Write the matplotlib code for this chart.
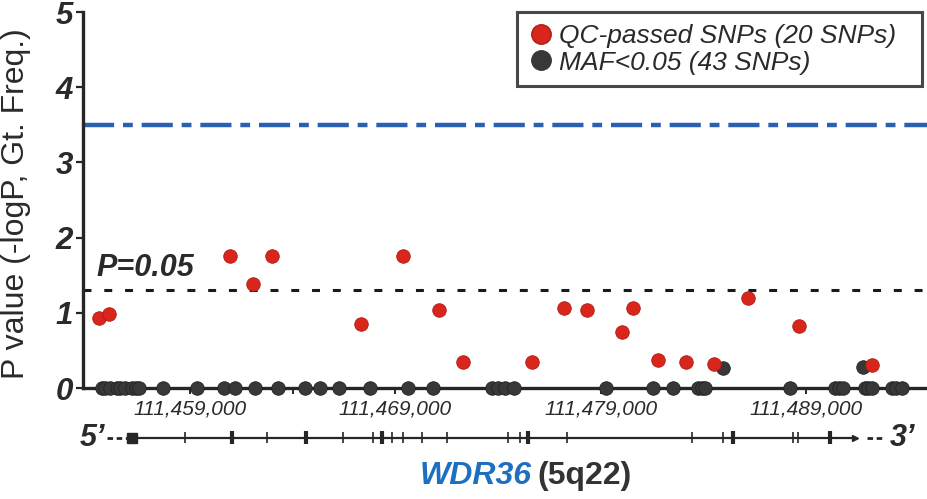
import matplotlib
matplotlib.use("Agg")
import matplotlib.pyplot as plt
from matplotlib.lines import Line2D
from matplotlib.ticker import FixedLocator, FuncFormatter

plt.rcParams['font.family'] = ['Liberation Sans', 'DejaVu Sans']

# QC-passed SNPs (position in bp, -logP)
qc_pos = [111454580, 111455070, 111460950, 111462080, 111462990, 111467310,
          111469390, 111471110, 111472310, 111475640, 111477220, 111478350,
          111480030, 111480590, 111481810, 111483160, 111484540, 111486200,
          111488660, 111492220]
qc_val = [0.93, 0.98, 1.76, 1.38, 1.76, 0.85, 1.76, 1.04, 0.35, 0.34,
          1.07, 1.04, 0.75, 1.07, 0.37, 0.35, 0.32, 1.20, 0.83, 0.30]

# MAF<0.05 SNPs
maf_pos = [111454700, 111454860, 111455100, 111455430, 111455590, 111455830,
           111456160, 111456370, 111456530, 111457670, 111459330, 111460660,
           111461190, 111462170, 111463300, 111464600, 111465330, 111466270,
           111467770, 111469630, 111470850, 111473700, 111474000, 111474340,
           111474780, 111479260, 111481540, 111482510, 111483760, 111483940,
           111484090, 111488230, 111490420, 111490610, 111490820, 111491880,
           111492030, 111492200, 111493180, 111493390, 111493670,
           111484950, 111491770]
maf_val = [0.0] * 41 + [0.27, 0.28]

sig_line = 1.30      # P = 0.05
bonf_line = 3.5

# gene structure of WDR36
gene_start = 111456160
gene_end = 111491390
exon_thick = [111461030, 111464650, 111468340, 111475480, 111485460, 111490170]
exon_thin = [111458760, 111462740, 111466450, 111467930, 111468830, 111469390,
             111470290, 111471500, 111474500, 111475070, 111477380, 111483440,
             111484950, 111488390, 111488630]

x_min, x_max = 111453790, 111494950
major_ticks = [111459000, 111469000, 111479000, 111489000]
minor_ticks = [111464000, 111474000, 111484000]

red = '#d9261c'
dark = '#383838'
axc = '#262626'

fig = plt.figure(figsize=(9.28, 4.99), dpi=100)
ax = fig.add_axes([83 / 928, 111 / 499, 845 / 928, 376 / 499])

ax.axhline(bonf_line, color='#2b5fb3', lw=3.2, dashes=(7, 2, 2.2, 2))
ax.axhline(sig_line, color='#1a1a1a', lw=2.2, dashes=(2.6, 4.2))

ax.scatter(maf_pos, maf_val, s=95, color=dark, edgecolor='#222222',
           linewidth=0.6, zorder=3, clip_on=False)
ax.scatter(qc_pos, qc_val, s=95, color=red, edgecolor='#b01a12',
           linewidth=0.6, zorder=4, clip_on=False)

ax.set_xlim(x_min, x_max)
ax.set_ylim(0, 5)
for s in ['top', 'right']:
    ax.spines[s].set_visible(False)
for s in ['left', 'bottom']:
    ax.spines[s].set_linewidth(2.4)
    ax.spines[s].set_color(axc)
ax.spines['bottom'].set_zorder(2)

ax.set_yticks([0, 1, 2, 3, 4, 5])
ax.set_yticklabels(['0', '1', '2', '3', '4', '5'], fontsize=22.5,
                   fontweight='bold', fontstyle='italic', color='#2a2a2a')
ax.tick_params(axis='y', length=5, width=1.6, pad=2, color=axc)

ax.xaxis.set_major_locator(FixedLocator(major_ticks))
ax.xaxis.set_minor_locator(FixedLocator(minor_ticks))
ax.xaxis.set_major_formatter(FuncFormatter(lambda v, p: f"{int(v):,}"))
ax.tick_params(axis='x', which='both', length=4, width=1.4, pad=4, color=axc)
for lab in ax.get_xticklabels():
    lab.set_fontsize(15)
    lab.set_fontstyle('italic')
    lab.set_color('#2a2a2a')

ax.set_ylabel('P value (-logP, Gt. Freq.)', fontsize=23, color='#2a2a2a')
ax.yaxis.set_label_coords(-0.062, 0.49)

ax.text(111454450, sig_line + 0.1, 'P=0.05', fontsize=22, fontweight='bold',
        fontstyle='italic', color='#2a2a2a', va='bottom', ha='left')

handles = [Line2D([], [], marker='o', ls='', color=red, markeredgecolor='#b01a12',
                  markersize=14),
           Line2D([], [], marker='o', ls='', color=dark, markersize=14)]
leg = ax.legend(handles, ['QC-passed SNPs (20 SNPs)', 'MAF<0.05 (43 SNPs)'],
                loc='upper left', bbox_to_anchor=(0.5136, 0.0, 0.4794, 1.0),
                mode='expand', borderaxespad=0, fancybox=False,
                handletextpad=0.25, handlelength=0.9, borderpad=0.45,
                labelspacing=0.1, prop={'size': 19, 'style': 'italic'})
leg.get_frame().set_edgecolor('#1a1a1a')
leg.get_frame().set_linewidth(2.2)
for t in leg.get_texts():
    t.set_color('#2a2a2a')

# gene track
gx = fig.add_axes([83 / 928, 49 / 499, 845 / 928, 25 / 499])
gx.set_xlim(x_min, x_max)
gx.set_ylim(-1, 1)
gx.axis('off')
gx.plot([gene_start, gene_end], [0, 0], color=axc, lw=1.6)
gx.plot([gene_end], [0], marker='>', color=axc, markersize=5)
gx.plot([gene_start], [0], marker='s', color=axc, markersize=7)
gx.vlines(exon_thick, -0.5, 0.5, color=axc, lw=3)
gx.vlines(exon_thin, -0.45, 0.45, color=axc, lw=1.2)
gx.plot([0.028, 0.054], [0.5, 0.5], transform=gx.transAxes, color=axc,
        lw=2, dashes=(2, 1.3), clip_on=False)
gx.plot([0.928, 0.948], [0.5, 0.5], transform=gx.transAxes, color=axc,
        lw=2, dashes=(2, 1.3), clip_on=False)
gx.text(0.026, 0.5, '5\u2019', transform=gx.transAxes, fontsize=22,
        fontweight='bold', fontstyle='italic', color='#2a2a2a',
        ha='right', va='center')
gx.text(0.955, 0.5, '3\u2019', transform=gx.transAxes, fontsize=22,
        fontweight='bold', fontstyle='italic', color='#2a2a2a',
        ha='left', va='center')

fig.text(0.573, 0.047, 'WDR36', fontsize=23, fontweight='bold',
         fontstyle='italic', color='#1f6fc0', ha='right', va='center')
fig.text(0.579, 0.047, '(5q22)', fontsize=23, fontweight='bold',
         color='#333333', ha='left', va='center')

fig.savefig('out.png', dpi=100)
